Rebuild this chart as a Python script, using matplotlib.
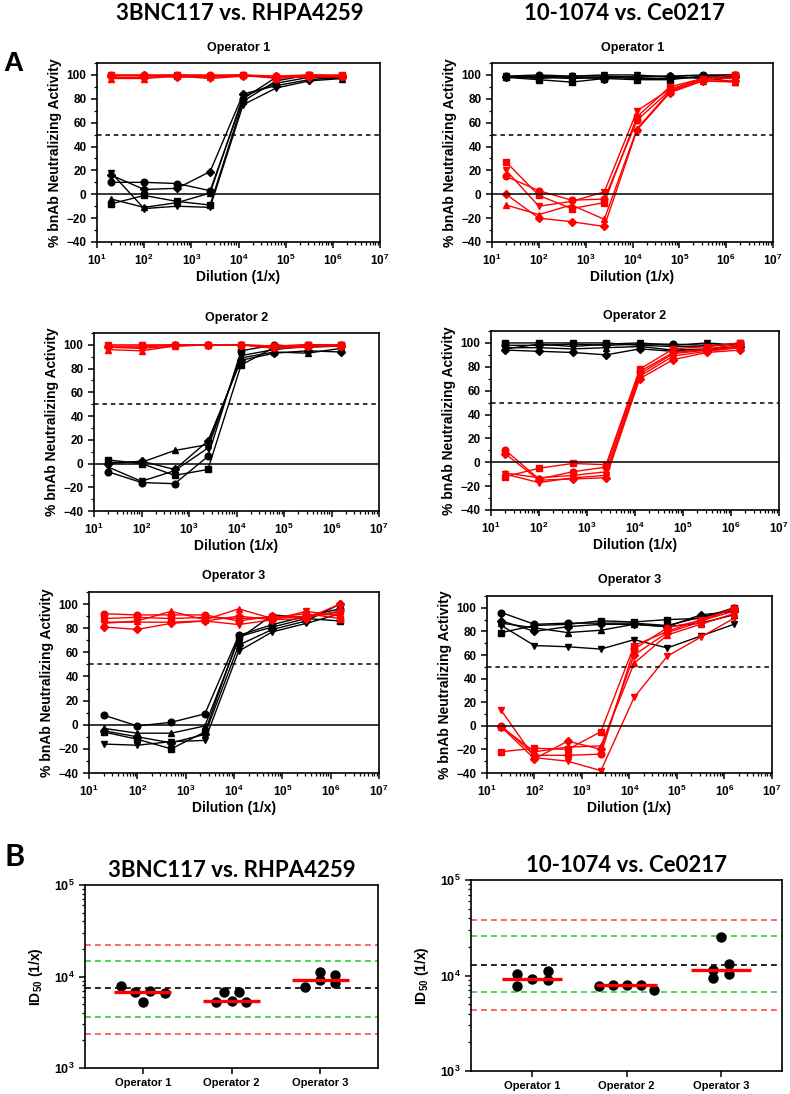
import numpy as np
import matplotlib
matplotlib.use("Agg")
import matplotlib.pyplot as plt
from matplotlib.ticker import LogLocator, MultipleLocator, NullFormatter, FixedLocator

plt.rcParams["font.family"] = ["Liberation Sans", "DejaVu Sans"]
plt.rcParams["font.weight"] = "bold"
plt.rcParams["mathtext.fontset"] = "custom"
plt.rcParams["mathtext.bf"] = "Liberation Sans:bold"
plt.rcParams["mathtext.rm"] = "Liberation Sans:bold"

# ─── data: neutralization curves (rows = replicates o, s, ^, v, D) ───────────
dilutions = [20, 100, 500, 2500, 12500, 62500, 312500, 1562500]

a1_black = [[10, 10, 9, 3, 80, 98, 99, 98],
            [-8, -1, -6, -9, 78, 95, 100, 99],
            [-4, -11, -7, 1, 82, 93, 98, 97],
            [18, -12, -10, -11, 75, 89, 95, 97],
            [16, 4, 5, 19, 84, 91, 96, 98]]
a1_red = [[100, 100, 100, 100, 100, 99, 100, 99],
          [100, 99, 100, 99, 100, 98, 100, 100],
          [97, 97, 99, 98, 100, 97, 99, 99],
          [98, 98, 99, 97, 99, 98, 99, 98],
          [99, 100, 98, 99, 99, 99, 98, 99]]

a2_black = [[99, 100, 99, 99, 98, 99, 100, 100],
            [98, 96, 94, 97, 96, 96, 99, 100],
            [98, 98, 97, 98, 97, 97, 98, 94],
            [99, 97, 99, 100, 100, 98, 98, 99],
            [98, 99, 98, 97, 99, 99, 97, 98]]
a2_red = [[15, 3, -5, -4, 62, 87, 96, 98],
          [27, -1, -12, -7, 65, 90, 97, 100],
          [-9, -17, -9, -21, 55, 86, 95, 94],
          [20, -10, -6, 2, 70, 88, 97, 97],
          [0, -20, -23, -27, 54, 85, 95, 95]]

a3_black = [[-7, -16, -17, 6, 95, 100, 98, 99],
            [3, 0, -10, -5, 83, 98, 100, 100],
            [1, 1, 11, 16, 89, 94, 93, 97],
            [-3, -15, -6, 13, 91, 96, 99, 99],
            [0, 2, -5, 19, 87, 93, 95, 94]]
a3_red = [[99, 99, 100, 100, 100, 99, 100, 100],
          [100, 100, 100, 100, 100, 99, 100, 100],
          [96, 95, 99, 100, 100, 98, 99, 99],
          [98, 97, 99, 100, 100, 97, 98, 100],
          [98, 98, 100, 100, 100, 98, 99, 99]]

a4_black = [[98, 98, 99, 98, 99, 99, 98, 99],
            [100, 100, 100, 100, 98, 97, 97, 100],
            [96, 96, 95, 96, 97, 94, 95, 97],
            [95, 99, 97, 99, 100, 98, 100, 98],
            [94, 93, 92, 90, 95, 93, 94, 97]]
a4_red = [[10, -14, -8, -4, 76, 92, 95, 99],
          [-12, -5, -1, -2, 78, 95, 97, 100],
          [-9, -13, -11, -8, 74, 91, 94, 97],
          [-10, -17, -13, -11, 72, 89, 93, 96],
          [7, -15, -14, -13, 70, 86, 92, 94]]

a5_black = [[8, -1, 2, 9, 74, 83, 90, 96],
            [-6, -12, -20, -6, 73, 81, 88, 86],
            [-3, -7, -7, -1, 71, 91, 89, 94],
            [-16, -17, -14, -13, 61, 77, 84, 92],
            [-5, -10, -15, -8, 66, 79, 86, 100]]
a5_red = [[92, 91, 91, 91, 86, 90, 89, 94],
          [88, 89, 88, 89, 88, 89, 92, 88],
          [84, 86, 94, 87, 96, 88, 90, 92],
          [85, 85, 85, 86, 83, 87, 94, 90],
          [81, 79, 84, 86, 90, 87, 88, 100]]

a6_black = [[96, 86, 87, 87, 87, 85, 92, 98],
            [79, 85, 86, 89, 88, 90, 91, 100],
            [87, 83, 79, 81, 86, 84, 87, 94],
            [85, 68, 67, 65, 73, 66, 76, 86],
            [89, 80, 84, 86, 86, 84, 94, 97]]
a6_red = [[0, -25, -25, -24, 65, 83, 89, 97],
          [-22, -19, -20, -5, 68, 80, 90, 99],
          [-1, -22, -18, -17, 53, 77, 86, 95],
          [13, -27, -30, -38, 24, 59, 75, 91],
          [-1, -28, -13, -20, 60, 79, 88, 100]]

# ─── data: ID50 per operator ─────────────────────────────────────────────────
operators = ["Operator 1", "Operator 2", "Operator 3"]
id50_3bnc = [[7850, 6810, 5220, 6920, 6590],
             [5270, 6700, 5390, 6700, 5300],
             [7720, 11150, 9050, 10430, 8390]]
id50_1074 = [[10300, 7700, 9090, 11270, 8880],
             [7830, 7940, 7900, 7960, 7050],
             [25300, 11450, 9310, 13300, 10490]]
ref_3bnc = [22000, 14800, 7400, 3650, 2350]
ref_1074 = [38500, 25900, 12900, 6780, 4370]

# horizontal spread of dots (style)
spread_3bnc = [[-0.25, -0.085, 0, 0.08, 0.25],
               [-0.17, -0.085, 0, 0.08, 0.165],
               [-0.17, 0, 0, 0.165, 0.165]]
spread_1074 = [[-0.165, -0.165, 0, 0.165, 0.165],
               [-0.29, -0.145, 0, 0.15, 0.295],
               [0, -0.08, -0.08, 0.09, 0.09]]

# ─── layout helpers ──────────────────────────────────────────────────────────
W, H = 790, 1094
fig = plt.figure(figsize=(W / 100, H / 100), dpi=100)


def px_axes(x0, x1, y0, y1):
    return fig.add_axes([x0 / W, 1 - y1 / H, (x1 - x0) / W, (y1 - y0) / H])


def style_spines(ax):
    for s in ax.spines.values():
        s.set_linewidth(1.2)


markers = ["o", "s", "^", "v", "D"]
msizes = [4.8, 4.8, 4.8, 4.8, 3.6]


def curve_panel(ax, black, red, title):
    for rows, col in [(black, "black"), (red, "#ff0000")]:
        for r, m, ms in zip(rows, markers, msizes):
            ax.plot(dilutions, r, color=col, marker=m, ms=ms, lw=1.0,
                    mec=col, mfc=col)
    ax.axhline(50, color="black", lw=1.1, ls=(0, (3, 2.5)))
    ax.axhline(0, color="black", lw=1.1)
    ax.set_xscale("log")
    ax.set_xlim(10, 1e7)
    ax.set_ylim(-40, 110)
    ax.set_yticks(range(-40, 101, 20))
    ax.yaxis.set_minor_locator(MultipleLocator(10))
    ax.xaxis.set_major_locator(FixedLocator([10 ** k for k in range(1, 8)]))
    ax.set_xticklabels([r"$\mathbf{10^{%d}}$" % k for k in range(1, 8)])
    ax.xaxis.set_minor_locator(LogLocator(base=10, subs=np.arange(2, 10), numticks=20))
    ax.xaxis.set_minor_formatter(NullFormatter())
    ax.tick_params(which="major", direction="out", length=4, width=1.1,
                   labelsize=8.5, top=False, right=False)
    ax.tick_params(which="minor", direction="out", length=2.5, width=0.9,
                   top=False, right=False)
    ax.set_title(title, fontsize=9, fontweight="bold", pad=9)
    ax.set_xlabel("Dilution (1/x)", fontsize=10, fontweight="bold", labelpad=2)
    ax.set_ylabel("% bnAb Neutralizing Activity", fontsize=10,
                  fontweight="bold", labelpad=3)
    style_spines(ax)


panels = [
    ((97, 380, 63, 242), a1_black, a1_red, "Operator 1"),
    ((492, 773, 63, 242), a2_black, a2_red, "Operator 1"),
    ((94, 379, 333, 511), a3_black, a3_red, "Operator 2"),
    ((491, 779, 331, 510), a4_black, a4_red, "Operator 2"),
    ((89, 379, 592, 773), a5_black, a5_red, "Operator 3"),
    ((487, 772, 596, 773), a6_black, a6_red, "Operator 3"),
]
for rect, blk, rd, ttl in panels:
    curve_panel(px_axes(*rect), blk, rd, ttl)


def id50_panel(ax, vals, spread, refs, title):
    ref_cols = ["#ff4d4d", "#33cc33", "black", "#33cc33", "#ff4d4d"]
    for v, c in zip(refs, ref_cols):
        ax.axhline(v, color=c, lw=1.2, ls=(0, (3.5, 2.5)), zorder=1)
    for i, (v, sp) in enumerate(zip(vals, spread)):
        ax.plot(np.array(sp) + i, v, "o", color="black", ms=6.5, zorder=3)
        ax.hlines(np.median(v), i - 0.32, i + 0.32, color="#ff0000", lw=2.4,
                  zorder=4)
    ax.set_yscale("log")
    ax.set_ylim(1e3, 1e5)
    ax.set_xlim(-0.65, 2.65)
    ax.set_xticks(range(3))
    ax.set_xticklabels(operators, fontsize=8)
    ax.yaxis.set_major_locator(FixedLocator([1e3, 1e4, 1e5]))
    ax.set_yticklabels([r"$\mathbf{10^{3}}$", r"$\mathbf{10^{4}}$", r"$\mathbf{10^{5}}$"])
    ax.yaxis.set_minor_locator(LogLocator(base=10, subs=np.arange(2, 10), numticks=10))
    ax.yaxis.set_minor_formatter(NullFormatter())
    ax.tick_params(which="major", direction="out", length=4, width=1.1,
                   labelsize=9)
    ax.tick_params(axis="x", labelsize=8)
    ax.tick_params(which="minor", direction="out", length=2.5, width=0.9)
    ax.set_ylabel("ID$_{50}$ (1/x)", fontsize=10, fontweight="bold", labelpad=6)
    ax.set_title(title, fontsize=16, fontweight="bold", family="Lato", pad=6)
    style_spines(ax)


id50_panel(px_axes(85, 378, 885, 1068), id50_3bnc, spread_3bnc, ref_3bnc,
           "3BNC117 vs. RHPA4259")
id50_panel(px_axes(471, 782, 880, 1071), id50_1074, spread_1074, ref_1074,
           "10-1074 vs. Ce0217")

# ─── headers & panel letters ─────────────────────────────────────────────────
fig.text(240 / W, 1 - 14 / H, "3BNC117 vs. RHPA4259", ha="center", va="center",
         fontsize=16, fontweight="bold", family="Lato")
fig.text(625 / W, 1 - 14 / H, "10-1074 vs. Ce0217", ha="center", va="center",
         fontsize=16, fontweight="bold", family="Lato")
fig.text(13 / W, 1 - 64 / H, "A", ha="center", va="center", fontsize=20,
         fontweight="bold")
fig.text(15 / W, 1 - 857 / H, "B", ha="center", va="center", fontsize=22,
         fontweight="bold", family="Lato")

fig.savefig("out.png", dpi=100)
